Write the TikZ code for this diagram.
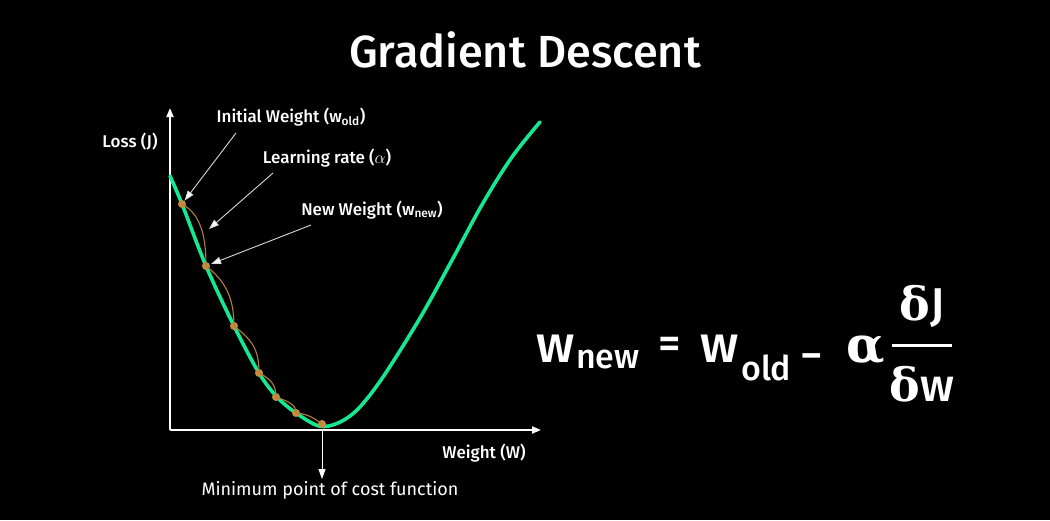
\documentclass[tikz,border=0pt]{standalone}
\usepackage{fontspec}
\setmainfont{Fira Sans}
\newfontfamily\medfont{Fira Sans Medium}
\newfontfamily\grk{DejaVu Serif}
\usetikzlibrary{arrows.meta,calc}
\definecolor{curvegreen}{RGB}{22,232,145}
\definecolor{dotorange}{RGB}{196,142,62}
\definecolor{arcorange}{RGB}{176,128,60}
\tikzset{
  lbl/.style={text=white,font=\medfont\fontsize{17}{19}\selectfont,inner sep=0pt},
  eqbig/.style={text=white,font=\medfont\fontsize{52}{56}\selectfont,inner sep=0pt,anchor=base west},
  eqsub/.style={text=white,font=\medfont\fontsize{34}{38}\selectfont,inner sep=0pt,anchor=base west},
  eqfrac/.style={text=white,font=\medfont\fontsize{46}{50}\selectfont,inner sep=0pt},
  axis/.style={white,line width=2pt,-{Triangle[length=9pt,width=7pt]}},
  pointer/.style={white!85!black,line width=0.9pt,-{Triangle[length=10pt,width=7pt,fill=white]}},
  wdot/.style={circle,fill=dotorange,inner sep=0pt,minimum size=8pt},
  arc/.style={arcorange,line width=1.1pt},
}
\begin{document}
\begin{tikzpicture}[x=1pt,y=-1pt]
\fill[black] (0,0) rectangle (1050,520);
\useasboundingbox (0,0) rectangle (1050,520);
% title
\node[text=white,font=\medfont\fontsize{45}{48}\selectfont,inner sep=0pt] (title) at (525,50) {Gradient Descent};
% axes
\coordinate (o) at (170,430);
\coordinate (ytop) at (170,108);
\coordinate (xend) at (541,430);
\draw[axis] (o) -- (ytop);
\draw[axis] (o) -- (xend);
% curve
\draw[curvegreen,line width=3.6pt,line cap=round] plot[smooth,tension=0.55] coordinates {
 (170,176) (182,204) (206,266) (234,326) (259,373) (277,397) (296,413) (319,426)
 (338,423) (358,409) (383,377) (420,318) (451,262) (483,203) (512,157) (540,122)};
% dots
\node[wdot] (d1) at (182,204) {};
\node[wdot] (d2) at (206,266) {};
\node[wdot] (d3) at (234,326) {};
\node[wdot] (d4) at (259,373) {};
\node[wdot] (d5) at (276,397) {};
\node[wdot] (d6) at (296,413) {};
\node[wdot] (d7) at (322,424) {};
% step arcs
\draw[arc] (d1.center) .. controls +(18,10) and +(0,-32) .. (d2.center);
\draw[arc] (d2.center) .. controls +(18,14) and +(0,-30) .. (d3.center);
\draw[arc] (d3.center) .. controls +(18,14) and +(0,-24) .. (d4.center);
\draw[arc] (d4.center) .. controls +(12,6) and +(0,-12) .. (d5.center);
\draw[arc] (d5.center) .. controls +(14,5) and +(0,-8) .. (d6.center);
\draw[arc] (d6.center) .. controls +(12,1) and +(-8,-6) .. (d7.center);
% labels
\node[lbl] (loss) at (130,142) {Loss (J)};
\node[lbl] (wlab) at (484,453) {Weight (W)};
\node[lbl] (init) at (291,117) {Initial Weight (w\textsubscript{old})};
\node[lbl] (lrate) at (327,158) {Learning rate ($\alpha$)};
\node[lbl] (neww) at (372,210) {New Weight (w\textsubscript{new})};
\node[text=white,inner sep=0pt,font=\fontsize{18}{20}\selectfont] (minlab) at (330,490) {Minimum point of cost function};
% pointers
\coordinate (ia) at (236,133);
\coordinate (la) at (273,173);
\coordinate (lt) at (209,229);
\coordinate (na) at (311,225);
\coordinate (nt) at (211,264);
\draw[pointer] (ia) -- (d1);
\draw[pointer] (la) -- (lt);
\draw[pointer] (na) -- (nt);
\coordinate (ma) at (322,430);
\coordinate (mt) at (322,479);
\draw[white,line width=1pt,-{Triangle[length=10pt,width=7pt]}] (ma) -- (mt);
% formula
\node[eqbig] (w1) at (536,362) {w};
\node[eqsub] (s1) at (576,368) {new};
\node[text=white,font=\medfont\fontsize{44}{48}\selectfont,inner sep=0pt] (eq) at (670,348) {=};
\node[eqbig] (w2) at (700,362) {w};
\node[eqsub] (s2) at (741,380) {old};
\node[text=white,font=\medfont\fontsize{44}{48}\selectfont,inner sep=0pt] (minus) at (812,362) {−};
\node[eqbig,font=\grk\bfseries\fontsize{50}{54}\selectfont] (al) at (846,362) {α};
\coordinate (fl) at (892,345);
\coordinate (fr) at (952,345);
\draw[white,line width=3pt] (fl) -- (fr);
\node[eqfrac] (num) at (922,306) {{\grk\bfseries δ}J};
\node[eqfrac] (den) at (922,384) {{\grk\bfseries δ}w};
\end{tikzpicture}
\end{document}
